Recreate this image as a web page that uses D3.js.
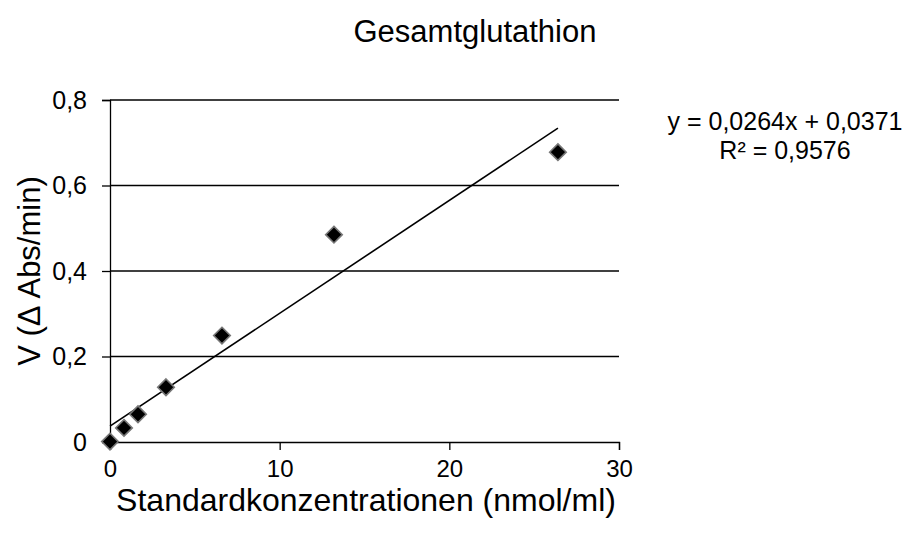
<!DOCTYPE html>
<html>
<head>
<meta charset="utf-8">
<script src="https://cdn.jsdelivr.net/npm/d3@7"></script>
<style>
  html, body { margin: 0; padding: 0; background: #fff; }
  svg { display: block; font-family: "Liberation Sans", Arial, Helvetica, sans-serif; }
</style>
</head>
<body>
<svg id="chart" width="913" height="534"></svg>
<script>
// Standard concentrations (nmol/ml) and measured rates (Δ Abs/min)
const concentrations = [0, 0.825, 1.65, 3.3, 6.6, 13.2, 26.4];
const rates = [0.001, 0.033, 0.065, 0.128, 0.249, 0.485, 0.678];

// Linear regression as reported
const slope = 0.0264;
const intercept = 0.0371;
const rSquared = "0,9576";

const xTicks = [0, 10, 20, 30];
const yTicks = [0, 0.2, 0.4, 0.6, 0.8];

const svg = d3.select("#chart");
const margin = { left: 110, right: 294, top: 100, bottom: 92 };
const W = 913, H = 534;
const FONT = "Liberation Sans, Arial, sans-serif";

const x = d3.scaleLinear().domain([0, 30]).range([margin.left, W - margin.right]);
const y = d3.scaleLinear().domain([0, 0.8]).range([H - margin.bottom, margin.top]);

const fmtY = d => d === 0 ? "0" : d3.format(".1f")(d).replace(".", ",");
const fmtX = d3.format("d");

// Horizontal gridlines
svg.append("g")
  .selectAll("line")
  .data(yTicks.filter(d => d > 0))
  .join("line")
  .attr("x1", x(0)).attr("x2", x(30))
  .attr("y1", d => y(d)).attr("y2", d => y(d))
  .attr("stroke", "#000").attr("stroke-width", 1.3);

// Y axis
const yAxis = svg.append("g")
  .attr("transform", `translate(${x(0)},0)`)
  .call(d3.axisLeft(y).tickValues(yTicks).tickFormat(fmtY).tickSize(8).tickPadding(15));
yAxis.select(".domain").attr("stroke", "#000").attr("stroke-width", 1.3);
yAxis.selectAll(".tick line").attr("stroke", "#000").attr("stroke-width", 1.3);
yAxis.selectAll(".tick text").attr("font-size", 25).attr("fill", "#000")
  .attr("font-family", FONT);

// X axis
const xAxis = svg.append("g")
  .attr("transform", `translate(0,${y(0)})`)
  .call(d3.axisBottom(x).tickValues(xTicks).tickFormat(fmtX).tickSize(8).tickPadding(10));
xAxis.select(".domain").attr("stroke", "#000").attr("stroke-width", 1.3);
xAxis.selectAll(".tick line").attr("stroke", "#000").attr("stroke-width", 1.3);
xAxis.selectAll(".tick text").attr("font-size", 24).attr("fill", "#000")
  .attr("font-family", FONT);

// Trend line across the data range
const xMax = d3.max(concentrations);
svg.append("line")
  .attr("x1", x(0)).attr("y1", y(intercept))
  .attr("x2", x(xMax)).attr("y2", y(slope * xMax + intercept))
  .attr("stroke", "#000").attr("stroke-width", 1.6);

// Diamond markers: black fill with a thin grey rim
const diamond = d3.symbol().type(d3.symbolDiamond2).size(175);
svg.append("g")
  .selectAll("path")
  .data(concentrations.map((c, i) => [c, rates[i]]))
  .join("path")
  .attr("d", diamond)
  .attr("transform", d => `translate(${x(d[0])},${y(d[1])})`)
  .attr("fill", "#000")
  .attr("stroke", "#777")
  .attr("stroke-width", 1.6);

// Title
svg.append("text")
  .attr("x", 475).attr("y", 42)
  .attr("text-anchor", "middle")
  .attr("font-size", 31)
  .text("Gesamtglutathion");

// Axis titles
svg.append("text")
  .attr("x", 366).attr("y", 511)
  .attr("text-anchor", "middle")
  .attr("font-size", 32)
  .text("Standardkonzentrationen (nmol/ml)");

svg.append("text")
  .attr("transform", `translate(40,${(y(0) + y(0.8)) / 2}) rotate(-90)`)
  .attr("text-anchor", "middle")
  .attr("font-size", 31)
  .text("V (Δ Abs/min)");

// Regression equation
const comma = v => String(v).replace(".", ",");
svg.append("text")
  .attr("x", 785).attr("y", 130)
  .attr("text-anchor", "middle")
  .attr("font-size", 25)
  .text(`y = ${comma(slope)}x + ${comma(intercept)}`);
svg.append("text")
  .attr("x", 785).attr("y", 159)
  .attr("text-anchor", "middle")
  .attr("font-size", 25)
  .text(`R² = ${rSquared}`);
</script>
</body>
</html>
